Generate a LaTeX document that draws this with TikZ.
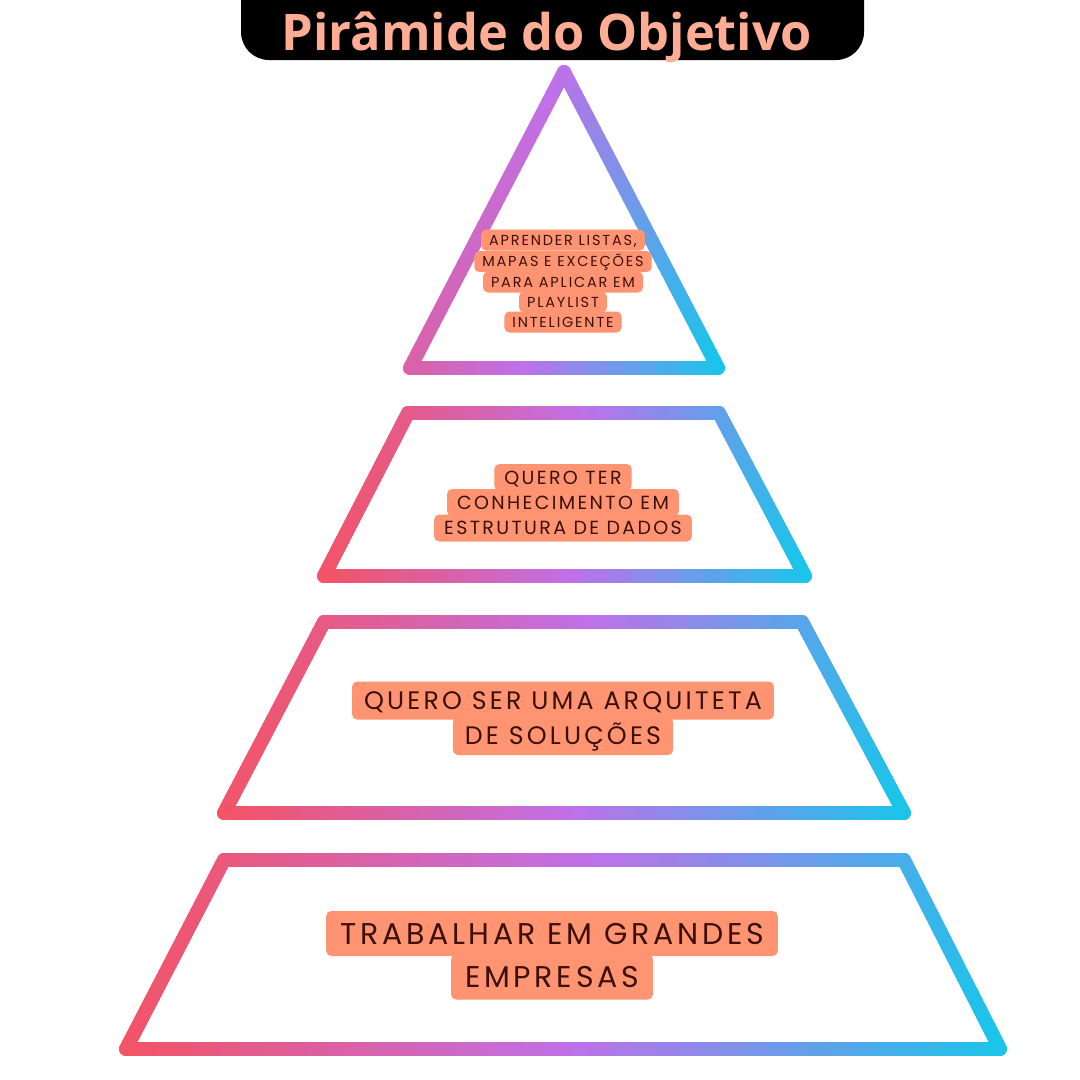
\documentclass[tikz,border=0pt]{standalone}
\usepackage{fontspec}
\setmainfont{Open Sans}
\newfontfamily\titlefont{Open Sans}
\newfontfamily\labfont{Poppins}[LetterSpace=12.5]
\definecolor{gstart}{HTML}{F25468}
\definecolor{gmid}{HTML}{C070E8}
\definecolor{gend}{HTML}{18C6EA}
\definecolor{boxc}{HTML}{FF9473}
\definecolor{txtc}{HTML}{3C1008}
\definecolor{titc}{HTML}{FFAC94}
\newcommand\gedge[6]{%
  \foreach \i in {1,...,40}{%
    \pgfmathsetmacro\gxa{#1+(#3-#1)/40*(\i-1)}%
    \pgfmathsetmacro\gya{#2+(#4-#2)/40*(\i-1)}%
    \pgfmathsetmacro\gxb{#1+(#3-#1)/40*\i}%
    \pgfmathsetmacro\gyb{#2+(#4-#2)/40*\i}%
    \pgfmathsetmacro\gtv{(0.5*\gxa+0.5*\gxb+0.075*\gya+0.075*\gyb-#5)/(#6-#5)}%
    \pgfmathsetmacro\gpa{max(0,min(100,200*\gtv))}%
    \pgfmathsetmacro\gpb{max(0,min(100,200*\gtv-100))}%
    \colorlet{segc}{gmid!\gpa!gstart}%
    \colorlet{segc}{gend!\gpb!segc}%
    \draw[gline,draw=segc] (\gxa,\gya) -- (\gxb,\gyb);
  }%
}
\tikzset{
  gline/.style={line width=14pt, line cap=round},
  lab/.style={fill=boxc, text=txtc, rounded corners=5pt, inner ysep=0pt, text depth=0pt},
  labA/.style={lab, font=\labfont\fontsize{14.5}{16}\selectfont, text height=10pt, minimum height=21pt, inner xsep=8pt},
  labB/.style={lab, font=\labfont\fontsize{19}{21}\selectfont, text height=13.3pt, minimum height=27pt, inner xsep=10pt},
  labC/.style={lab, font=\labfont\fontsize{25.3}{28}\selectfont, text height=17.7pt, minimum height=38pt, inner xsep=12pt},
  labD/.style={lab, font=\labfont\fontsize{30}{33}\selectfont, text height=21pt, minimum height=45pt, inner xsep=14pt},
}
\begin{document}
\begin{tikzpicture}[x=1pt,y=-1pt]
\useasboundingbox (0,0) rectangle (1080,1080);
\fill[white] (0,0) rectangle (1080,1080);
% title bar
\fill[black, rounded corners=28pt] (241,-40) rectangle (864,60);
\node[font=\titlefont\bfseries\fontsize{50.5}{58}\selectfont, text=titc, anchor=base, inner sep=0pt] (title) at (547,50) {Pirâmide do Objetivo};
% triangle
\gedge{564}{72}{718}{368}{362.5}{773.2}
\gedge{718}{368}{410}{368}{362.5}{773.2}
\gedge{410}{368}{564}{72}{362.5}{773.2}
% trapezoid 2
\gedge{408}{413}{719}{413}{410.4}{891.4}
\gedge{719}{413}{805}{576}{410.4}{891.4}
\gedge{805}{576}{324}{576}{410.4}{891.4}
\gedge{324}{576}{408}{413}{410.4}{891.4}
% trapezoid 3
\gedge{324}{622}{802}{622}{346}{1026}
\gedge{802}{622}{904}{813}{346}{1026}
\gedge{904}{813}{224}{813}{346}{1026}
\gedge{224}{813}{324}{622}{346}{1026}
% trapezoid 4
\gedge{224}{860}{904}{860}{283.4}{1157.4}
\gedge{904}{860}{1000}{1049}{283.4}{1157.4}
\gedge{1000}{1049}{126}{1049}{283.4}{1157.4}
\gedge{126}{1049}{224}{860}{283.4}{1157.4}
% labels level 1
\node[labA] (a1) at (563,240) {APRENDER LISTAS,};
\node[labA] (a2) at (563,261.7) {MAPAS E EXCEÇÕES};
\node[labA] (a3) at (563,282) {PARA APLICAR EM};
\node[labA] (a4) at (563,302) {PLAYLIST};
\node[labA] (a5) at (563,322) {INTELIGENTE};
% level 2
\node[labB] (b1) at (563,477.5) {QUERO TER};
\node[labB] (b2) at (563,502.5) {CONHECIMENTO EM};
\node[labB] (b3) at (563,528) {ESTRUTURA DE DADOS};
% level 3
\node[labC] (c1) at (563,700.5) {QUERO SER UMA ARQUITETA};
\node[labC] (c2) at (563,736) {DE SOLUÇÕES};
% level 4
\node[labD] (d1) at (552,933.5) {TRABALHAR EM GRANDES};
\node[labD] (d2) at (552,977) {EMPRESAS};
\end{tikzpicture}
\end{document}
